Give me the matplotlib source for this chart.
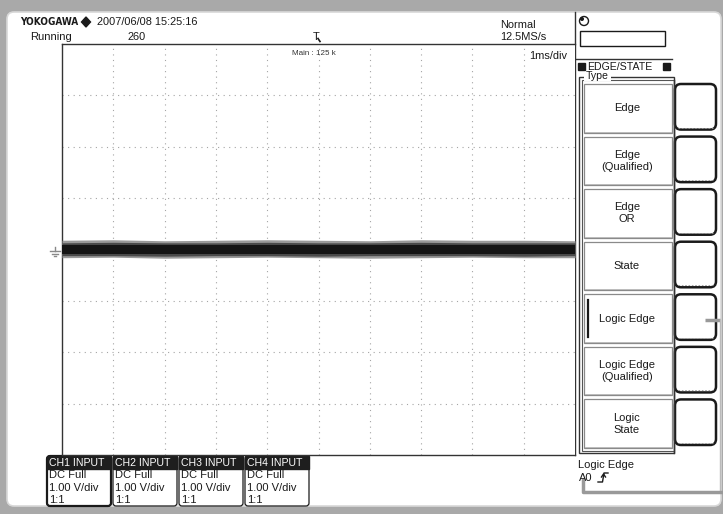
import matplotlib
matplotlib.use("Agg")
import matplotlib.pyplot as plt
from matplotlib.patches import Rectangle, FancyBboxPatch, Circle, Polygon

plt.rcParams['font.family'] = ['Liberation Sans', 'DejaVu Sans']

# ---------------- data ----------------
brand = "YOKOGAWA"
timestamp = "2007/06/08 15:25:16"
run_state = "Running"
acq_count = "260"
trig_mode = "Normal"
sample_rate = "12.5MS/s"
record_len = "Main : 125 k"
timebase = "1ms/div"

n_hdiv = 10          # horizontal divisions (1 ms/div)
n_vdiv = 8           # vertical divisions (1 V/div)
trig_pos_div = 5     # trigger position (divisions from left)

trace_time = [0, 1, 2, 3, 4, 5, 6, 7, 8, 9, 10]                 # ms
trace_outer_hi = [0.18, 0.19, 0.17, 0.18, 0.19, 0.18, 0.17, 0.19, 0.18, 0.18, 0.17]
trace_outer_lo = [-0.16, -0.15, -0.17, -0.16, -0.15, -0.16, -0.17, -0.16, -0.15, -0.16, -0.16]
trace_mid_hi = [0.13, 0.14, 0.13, 0.13, 0.14, 0.13, 0.13, 0.14, 0.13, 0.13, 0.13]
trace_mid_lo = [-0.12, -0.12, -0.13, -0.12, -0.12, -0.13, -0.12, -0.12, -0.12, -0.13, -0.12]
trace_core_hi = [0.09, 0.09, 0.09, 0.09, 0.09, 0.09, 0.09, 0.09, 0.09, 0.09, 0.09]
trace_core_lo = [-0.09, -0.09, -0.09, -0.09, -0.09, -0.09, -0.09, -0.09, -0.09, -0.09, -0.09]

menu_title = "EDGE/STATE"
menu_group = "Type"
menu_items = ["Edge", "Edge\n(Qualified)", "Edge\nOR", "State",
              "Logic Edge", "Logic Edge\n(Qualified)", "Logic\nState"]
menu_selected = "Logic Edge"

ch_names = ["CH1 INPUT", "CH2 INPUT", "CH3 INPUT", "CH4 INPUT"]
ch_coupling = ["DC Full", "DC Full", "DC Full", "DC Full"]
ch_scale = ["1.00 V/div", "1.00 V/div", "1.00 V/div", "1.00 V/div"]
ch_probe = ["1:1", "1:1", "1:1", "1:1"]

trig_type = "Logic Edge"
trig_source = "A0"

# ---------------- figure ----------------
W, H = 723, 514
fig = plt.figure(figsize=(W / 100, H / 100), dpi=100)
fig.patch.set_facecolor('#a9a9a9')
bg = fig.add_axes([0, 0, 1, 1])
bg.set_xlim(0, W)
bg.set_ylim(H, 0)
bg.axis('off')

FG = '#1a1a1a'
FS = 8.0
# white screen area
bg.add_patch(FancyBboxPatch((7, 12), 714, 494, boxstyle="round,pad=0,rounding_size=7",
                            fc='white', ec='#d8d8d8', lw=1.2))

# header texts
bg.text(20, 22, brand, fontsize=7.2, fontweight='bold', color=FG, va='center', ha='left',
        family=['DejaVu Sans'], stretch='condensed')
bg.add_patch(Polygon([[86, 17], [90.5, 22], [86, 27], [81.5, 22]], closed=True, fc=FG, ec=FG))
bg.text(97, 22, timestamp, fontsize=7.9, color=FG, va='center', ha='left')
bg.text(30, 37, run_state, fontsize=FS, color=FG, va='center', ha='left')
bg.text(128, 37, acq_count, fontsize=7.9, color=FG, va='center', ha='left')
bg.text(500, 25, trig_mode, fontsize=7.9, color=FG, va='center', ha='left')
bg.text(500, 37, sample_rate, fontsize=7.9, color=FG, va='center', ha='left')

# ---------------- graticule axes ----------------
L, R, T, B = 62, 575, 44, 455
ax = fig.add_axes([L / W, 1 - B / H, (R - L) / W, (B - T) / H])
ax.set_xlim(0, n_hdiv)
ax.set_ylim(-n_vdiv / 2, n_vdiv / 2)
ax.set_facecolor('white')
for s in ['left', 'top', 'bottom']:
    ax.spines[s].set_color('#333333')
    ax.spines[s].set_linewidth(1.0)
ax.spines['right'].set_visible(False)
ax.set_xticks([])
ax.set_yticks([])
for i in range(1, n_hdiv):
    ax.axvline(i, color='#a5a5a5', lw=0.8, ls=(0, (1, 4)), zorder=1)
for j in range(-n_vdiv // 2 + 1, n_vdiv // 2):
    ax.axhline(j, color='#a5a5a5', lw=0.8, ls=(0, (1, 4)), zorder=1)

ax.fill_between(trace_time, trace_outer_lo, trace_outer_hi, color='#9a9a9a', lw=0, zorder=3)
ax.fill_between(trace_time, trace_mid_lo, trace_mid_hi, color='#4a4a4a', lw=0, zorder=4)
ax.fill_between(trace_time, trace_core_lo, trace_core_hi, color='#151515', lw=0, zorder=5)

ax.text(trig_pos_div - 0.09, 3.88, record_len, fontsize=5.8, color='#333333', va='top', ha='center')
ax.text(9.85, 3.86, timebase, fontsize=7.9, color=FG, va='top', ha='right')

# trigger position marker (above the graticule)
tx = L + trig_pos_div * (R - L) / n_hdiv
bg.text(tx - 2.5, 37, "T", fontsize=8, color=FG, va='center', ha='center')
bg.plot([tx - 0.5, tx + 1.5], [38.5, 41.5], color=FG, lw=1.2)

# ground marker
bg.plot([50, 60], [251, 251], color='#888888', lw=1.0)
bg.plot([52, 58], [253.5, 253.5], color='#888888', lw=1.0)
bg.plot([54, 56], [256, 256], color='#888888', lw=1.0)
bg.plot([55, 55], [247, 251], color='#888888', lw=1.0)

# ---------------- right menu panel ----------------
bg.plot([575, 575], [12, 455], color='#333333', lw=1.0)
# rotate icon + input box
bg.add_patch(Circle((584, 21), 4.5, fc='white', ec=FG, lw=1.0))
bg.add_patch(Circle((582, 19), 1.3, fc=FG, ec=FG))
bg.add_patch(Rectangle((580, 31), 85, 15, fc='white', ec=FG, lw=1.0))
bg.plot([575, 672], [58.5, 58.5], color='#333333', lw=1.0)
bg.add_patch(Rectangle((578, 63), 7, 7, fc=FG, ec=FG))
bg.text(587, 66.5, menu_title, fontsize=7.6, color=FG, va='center', ha='left')
bg.add_patch(Rectangle((663, 63), 7, 7, fc=FG, ec=FG))
# group box (double line)
bg.add_patch(Rectangle((579, 77), 95, 376, fc='none', ec='#333333', lw=1.0))
bg.add_patch(Rectangle((581.5, 79.5), 92.5, 371, fc='none', ec='#555555', lw=0.8))
bg.add_patch(Rectangle((584, 72), 27, 9, fc='white', ec='none'))
bg.text(586, 76, menu_group, fontsize=7.6, color=FG, va='center', ha='left')

n_items = len(menu_items)
top0, bot0 = 83, 451
step = (bot0 - top0) / n_items
for k, lab in enumerate(menu_items):
    y0 = top0 + k * step + 1
    h = step - 4
    bg.add_patch(Rectangle((584, y0), 88, h, fc='white', ec='#8a8a8a', lw=0.9))
    bg.plot([585, 671], [y0 + h - 1, y0 + h - 1], color='#bbbbbb', lw=0.7)
    bg.text(627, y0 + h / 2, lab, fontsize=FS, color=FG, va='center', ha='center',
            linespacing=1.25)
    if lab == menu_selected:
        bg.plot([588, 588], [y0 + 6, y0 + h - 6], color=FG, lw=1.6)
    # softkey
    sy0 = top0 + k * step
    bg.add_patch(FancyBboxPatch((675, sy0 + 1), 41, step - 7,
                                boxstyle="round,pad=0,rounding_size=6",
                                fc='white', ec=FG, lw=1.8))
    bg.plot([678, 713], [sy0 + step - 8, sy0 + step - 8], color='#999999', lw=0.6,
            ls=(0, (2, 2)))
bg.plot([674, 674], [80, 453], color='#333333', lw=1.0)

# indicator lines
bg.plot([705, 720], [320, 320], color='#999999', lw=2.5, solid_capstyle='butt')
bg.plot([720, 720], [320, 492], color='#bbbbbb', lw=1.0)
bg.plot([583, 583, 721], [480, 492, 492], color='#999999', lw=2.5, solid_joinstyle='round')

# trigger text
bg.text(578, 465, trig_type, fontsize=FS, color=FG, va='center', ha='left')
bg.text(579, 478, trig_source, fontsize=FS, color=FG, va='center', ha='left')
bg.plot([598, 602.5, 604, 608], [482, 482, 473, 473], color=FG, lw=1.0)
bg.plot([601.5, 603.5, 605.5], [477, 474, 477], color=FG, lw=1.0)

# ---------------- channel boxes ----------------
ch_x = 47
ch_w = 64
for i, name in enumerate(ch_names):
    x0 = ch_x + i * (ch_w + 2)
    lw = 1.6 if i == 0 else 0.9
    bg.add_patch(FancyBboxPatch((x0, 456), ch_w, 50, boxstyle="round,pad=0,rounding_size=3",
                                fc='white', ec=FG, lw=lw))
    bg.add_patch(Rectangle((x0, 456), ch_w, 13, fc='#1e1e1e', ec='#1e1e1e'))
    bg.text(x0 + 2, 463, name, fontsize=7.6, color='white', va='center', ha='left')
    bg.text(x0 + 2, 475.5, ch_coupling[i], fontsize=FS, color=FG, va='center', ha='left')
    bg.text(x0 + 2, 488, ch_scale[i], fontsize=FS, color=FG, va='center', ha='left')
    bg.text(x0 + 2, 500, ch_probe[i], fontsize=FS, color=FG, va='center', ha='left')

fig.savefig("out.png", dpi=100, facecolor=fig.get_facecolor())
